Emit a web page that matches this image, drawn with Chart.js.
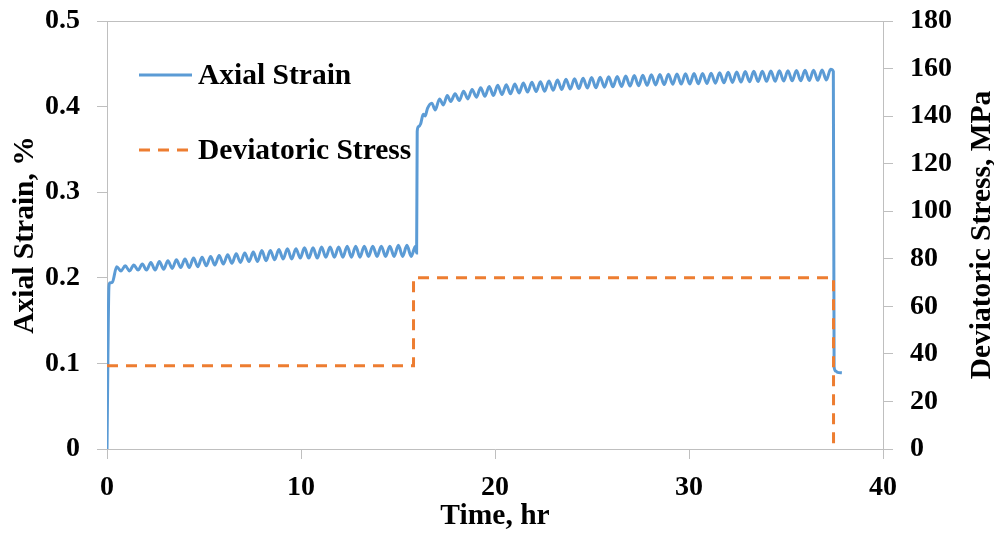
<!DOCTYPE html>
<html>
<head>
<meta charset="utf-8">
<script src="https://cdn.jsdelivr.net/npm/chart.js@4.4.0/dist/chart.umd.min.js"></script>
<style>
	html, body { margin: 0; padding: 0; background: #fff; }
	#wrap { width: 994px; height: 535px; }
</style>
</head>
<body>
<div id="wrap"><canvas id="myChart" width="994" height="535"></canvas></div>
<script>
// creep test record: axial strain (%) and deviatoric stress (MPa) against time (hr)
const startHours = [0, 0.10, 0.14, 0.28];
const startStrain = [0, 0.190, 0.194, 0.195];

const stage1Hours = [
	0.50, 0.72, 0.94, 1.16, 1.38, 1.60, 1.82, 2.04,
	2.26, 2.48, 2.70, 2.92, 3.14, 3.36, 3.58, 3.80,
	4.02, 4.24, 4.46, 4.68, 4.90, 5.12, 5.34, 5.56,
	5.78, 6.00, 6.22, 6.44, 6.66, 6.88, 7.10, 7.32,
	7.54, 7.76, 7.98, 8.20, 8.42, 8.64, 8.86, 9.08,
	9.30, 9.52, 9.74, 9.96, 10.18, 10.40, 10.62, 10.84,
	11.06, 11.28, 11.50, 11.72, 11.94, 12.16, 12.38, 12.60,
	12.82, 13.04, 13.26, 13.48, 13.70, 13.92, 14.14, 14.36,
	14.58, 14.80, 15.02, 15.24, 15.46, 15.68, 15.90
];
const stage1Strain = [
	0.213, 0.208, 0.214, 0.208, 0.215, 0.209, 0.216, 0.209,
	0.218, 0.209, 0.219, 0.210, 0.220, 0.211, 0.221, 0.212,
	0.222, 0.212, 0.223, 0.213, 0.224, 0.214, 0.225, 0.215,
	0.226, 0.216, 0.227, 0.217, 0.228, 0.218, 0.229, 0.219,
	0.230, 0.219, 0.232, 0.220, 0.232, 0.221, 0.233, 0.222,
	0.234, 0.222, 0.234, 0.223, 0.235, 0.223, 0.235, 0.223,
	0.236, 0.224, 0.236, 0.224, 0.236, 0.224, 0.237, 0.224,
	0.237, 0.224, 0.237, 0.225, 0.237, 0.225, 0.237, 0.225,
	0.237, 0.225, 0.238, 0.225, 0.238, 0.225, 0.237
];

// step up in load
const jumpHours = [15.96, 15.99, 16.05, 16.17, 16.30, 16.40, 16.52, 16.74, 16.92, 17.14, 17.34, 17.54, 17.72, 17.94];
const jumpStrain = [0.229, 0.371, 0.3765, 0.380, 0.391, 0.389, 0.398, 0.404, 0.396, 0.409, 0.402, 0.413, 0.406, 0.415];

const stage2Hours = [
	18.16, 18.38, 18.60, 18.82, 19.04, 19.26, 19.48, 19.70,
	19.92, 20.14, 20.36, 20.58, 20.80, 21.02, 21.24, 21.46,
	21.68, 21.90, 22.12, 22.34, 22.56, 22.78, 23.00, 23.22,
	23.44, 23.66, 23.88, 24.10, 24.32, 24.54, 24.76, 24.98,
	25.20, 25.42, 25.64, 25.86, 26.08, 26.30, 26.52, 26.74,
	26.96, 27.18, 27.40, 27.62, 27.84, 28.06, 28.28, 28.50,
	28.72, 28.94, 29.16, 29.38, 29.60, 29.82, 30.04, 30.26,
	30.48, 30.70, 30.92, 31.14, 31.36, 31.58, 31.80, 32.02,
	32.24, 32.46, 32.68, 32.90, 33.12, 33.34, 33.56, 33.78,
	34.00, 34.22, 34.44, 34.66, 34.88, 35.10, 35.32, 35.54,
	35.76, 35.98, 36.20, 36.42, 36.64, 36.86, 37.08, 37.30
];
const stage2Strain = [
	0.407, 0.418, 0.409, 0.420, 0.411, 0.422, 0.412, 0.4235,
	0.413, 0.425, 0.414, 0.4255, 0.415, 0.4265, 0.416, 0.4275,
	0.417, 0.4285, 0.4175, 0.429, 0.418, 0.430, 0.419, 0.431,
	0.420, 0.432, 0.4205, 0.4325, 0.421, 0.433, 0.4217, 0.434,
	0.422, 0.4343, 0.4227, 0.435, 0.4231, 0.4353, 0.4235, 0.4357,
	0.424, 0.4362, 0.4244, 0.4366, 0.4248, 0.4371, 0.4253, 0.4375,
	0.4257, 0.4379, 0.4261, 0.4382, 0.4263, 0.4384, 0.4265, 0.4386,
	0.4267, 0.4388, 0.427, 0.4391, 0.4274, 0.4396, 0.4278, 0.440,
	0.4282, 0.4405, 0.4287, 0.4409, 0.4291, 0.4412, 0.4293, 0.4414,
	0.4295, 0.4416, 0.4297, 0.4418, 0.4299, 0.442, 0.4301, 0.4422,
	0.4303, 0.4424, 0.4305, 0.4426, 0.4307, 0.4428, 0.431, 0.4435
];

// unloading
const unloadHours = [37.44, 37.48, 37.56, 37.66, 37.88];
const unloadStrain = [0.441, 0.096, 0.091, 0.0895, 0.089];

// deviatoric stress steps (held until the next change)
const stressHours = [0, 15.8, 37.45];
const stressMPa = [35, 72, 0];

const hourTicks = [0, 10, 20, 30, 40];

const strainHours = [].concat(startHours, stage1Hours, jumpHours, stage2Hours, unloadHours);
const strainValues = [].concat(startStrain, stage1Strain, jumpStrain, stage2Strain, unloadStrain);

const serif = "'Liberation Serif', 'Times New Roman', serif";
const axisGrey = "#BFBFBF";
const blue = "#5B9BD5";
const orange = "#ED7D31";
const titleFont = { size: 29.5, weight: "bold" };

Chart.defaults.font.family = serif;
Chart.defaults.font.weight = "bold";
Chart.defaults.font.size = 28;
Chart.defaults.color = "#000";

const legendItems = [
	{ text: "Axial Strain", color: blue, dash: [], y: 75 },
	{ text: "Deviatoric Stress", color: orange, dash: [11, 8], y: 150 }
];

// frame line, right-hand title and the in-plot legend
const extras = {
	id: "extras",
	afterDraw(chart) {
		const ctx = chart.ctx;
		const area = chart.chartArea;
		ctx.save();
		ctx.strokeStyle = axisGrey;
		ctx.lineWidth = 1;
		ctx.beginPath();
		ctx.moveTo(area.left, area.top + 0.5);
		ctx.lineTo(area.right, area.top + 0.5);
		ctx.stroke();

		ctx.fillStyle = "#000";
		ctx.font = "bold 29.5px " + serif;
		ctx.textAlign = "center";
		ctx.textBaseline = "middle";
		ctx.translate(982, (area.top + area.bottom) / 2);
		ctx.rotate(-Math.PI / 2);
		ctx.fillText("Deviatoric Stress, MPa", 0, 0);
		ctx.restore();

		ctx.save();
		ctx.font = "bold 29.5px " + serif;
		ctx.textBaseline = "middle";
		ctx.textAlign = "left";
		legendItems.forEach(item => {
			ctx.strokeStyle = item.color;
			ctx.lineWidth = 3;
			ctx.setLineDash(item.dash);
			ctx.beginPath();
			ctx.moveTo(139, item.y);
			ctx.lineTo(192, item.y);
			ctx.stroke();
			ctx.setLineDash([]);
			ctx.fillStyle = "#000";
			ctx.fillText(item.text, 198, item.y + 1);
		});
		ctx.restore();
	}
};

// fixed axis boxes, without the extra room chart.js keeps for end labels
function fixBox(size) {
	return scale => {
		if (scale.isHorizontal()) scale.height = size;
		else scale.width = size;
		scale.paddingTop = 0;
		scale.paddingBottom = 0;
		scale.paddingLeft = 0;
		scale.paddingRight = 0;
	};
}

new Chart("myChart", {
	type: "line",
	data: {
		datasets: [
			{
				label: "Deviatoric Stress",
				yAxisID: "y2",
				data: stressHours.map((h, i) => ({ x: h, y: stressMPa[i] })),
				borderColor: orange,
				borderWidth: 3,
				borderDash: [11, 8],
				stepped: "before",
				pointRadius: 0,
				fill: false
			},
			{
				label: "Axial Strain",
				yAxisID: "y",
				data: strainHours.map((h, i) => ({ x: h, y: strainValues[i] })),
				borderColor: blue,
				borderWidth: 3,
				cubicInterpolationMode: "monotone",
				pointRadius: 0,
				fill: false
			}
		]
	},
	options: {
		responsive: false,
		animation: false,
		layout: { padding: { top: 21, left: 0, right: 0, bottom: 0 } },
		plugins: {
			legend: { display: false },
			tooltip: { enabled: false }
		},
		scales: {
			x: {
				type: "linear",
				min: 0,
				max: 40,
				afterBuildTicks: scale => { scale.ticks = hourTicks.map(v => ({ value: v })); },
				ticks: { padding: 12, maxRotation: 0 },
				grid: { drawOnChartArea: false, tickLength: 10, color: axisGrey },
				border: { color: axisGrey },
				title: { display: true, text: "Time, hr", font: titleFont, padding: { top: 0, bottom: 1 } },
				afterFit: fixBox(86)
			},
			y: {
				position: "left",
				min: 0,
				max: 0.5,
				ticks: { stepSize: 0.1, padding: 17, callback: v => String(+v.toFixed(1)) },
				grid: { drawOnChartArea: false, tickLength: 10, color: axisGrey },
				border: { color: axisGrey },
				title: { display: true, text: "Axial Strain, %", font: titleFont, padding: { top: 8, bottom: 0 } },
				afterFit: fixBox(107)
			},
			y2: {
				position: "right",
				min: 0,
				max: 180,
				ticks: { stepSize: 20, padding: 17 },
				grid: { drawOnChartArea: false, tickLength: 10, color: axisGrey },
				border: { color: axisGrey },
				afterFit: fixBox(111)
			}
		}
	},
	plugins: [extras]
});
</script>
</body>
</html>
